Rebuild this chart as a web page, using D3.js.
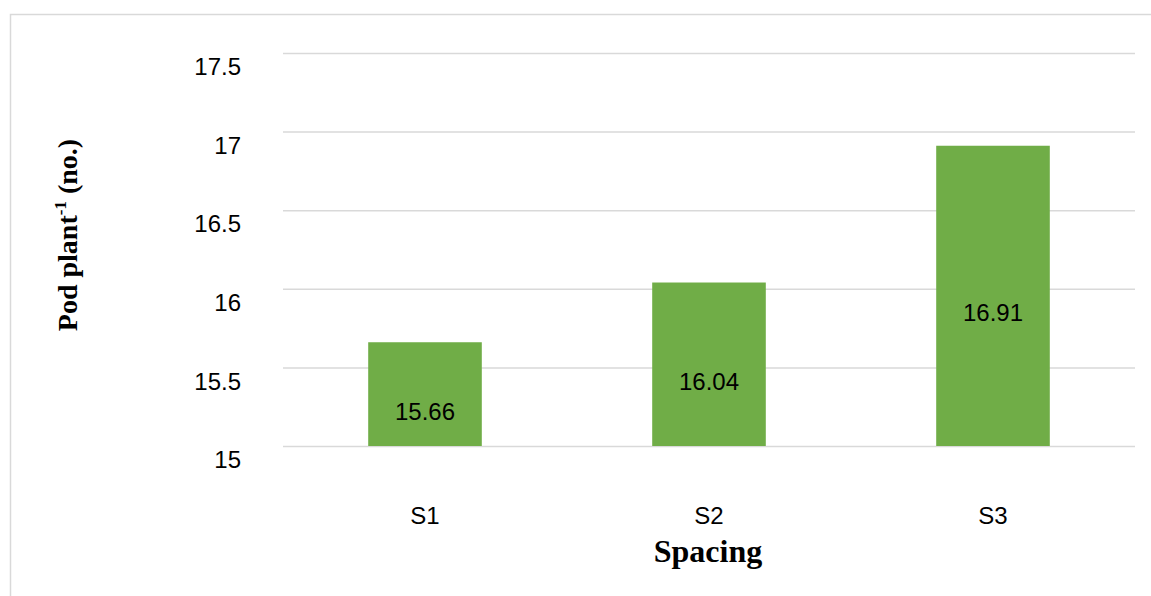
<!DOCTYPE html>
<html><head><meta charset="utf-8">
<script src="https://cdn.jsdelivr.net/npm/d3@7"></script>
<style>body{margin:0;background:#fff}svg{display:block}</style>
</head><body>
<svg id="c" width="1151" height="596"></svg>
<script>
const categories = ["S1", "S2", "S3"];
const values = [15.66, 16.04, 16.91];
const yTicks = [15, 15.5, 16, 16.5, 17, 17.5];
const yTickLabels = ["15", "15.5", "16", "16.5", "17", "17.5"];

const svg = d3.select("#c");
const m = {left: 283, right: 1135, top: 53, bottom: 446};

svg.append("rect").attr("x", 10.5).attr("y", 14.5).attr("width", 1160).attr("height", 620)
  .attr("fill", "#fff").attr("stroke", "#d9d9d9").attr("stroke-width", 1.5);

const x = d3.scaleBand().domain(categories).range([m.left, m.right]).paddingInner(0.6).paddingOuter(0.3);
const y = d3.scaleLinear().domain([15, 17.5]).range([m.bottom, m.top]);

// gridlines
const yAxis = d3.axisLeft(y).tickValues(yTicks).tickSize(-(m.right - m.left))
  .tickFormat((d, i) => yTickLabels[i]);
const gy = svg.append("g").attr("transform", `translate(${m.left},0)`).call(yAxis);
gy.select(".domain").remove();
gy.selectAll(".tick line").attr("stroke", "#d9d9d9").attr("stroke-width", 1.5);
gy.selectAll(".tick text").attr("x", -42).attr("dy", "0.9em")
  .attr("font-family", "Liberation Sans, Arial, sans-serif").attr("font-size", 24).attr("fill", "#000");

// bars
svg.append("g").selectAll("rect").data(values).join("rect")
  .attr("x", (d, i) => x(categories[i]))
  .attr("width", x.bandwidth())
  .attr("y", d => y(d))
  .attr("height", d => y(15) - y(d))
  .attr("fill", "#70ad47");

// value labels
svg.append("g").selectAll("text").data(values).join("text")
  .attr("x", (d, i) => x(categories[i]) + x.bandwidth() / 2)
  .attr("y", d => (y(d) + y(15)) / 2 + 17)
  .attr("dy", "0.35em")
  .attr("text-anchor", "middle")
  .attr("font-family", "Liberation Sans, Arial, sans-serif").attr("font-size", 24).attr("fill", "#000")
  .text(d => d.toFixed(2));

// x axis labels
const xAxis = d3.axisBottom(x).tickSize(0);
const gx = svg.append("g").attr("transform", `translate(0,${m.bottom})`).call(xAxis);
gx.select(".domain").remove();
gx.selectAll(".tick text").attr("y", 72).attr("dy", "0")
  .attr("font-family", "Liberation Sans, Arial, sans-serif").attr("font-size", 24).attr("fill", "#000")
  .attr("dominant-baseline", "middle");

// axis titles
svg.append("text").attr("x", 708).attr("y", 562).attr("text-anchor", "middle")
  .attr("font-family", "Liberation Serif, Times New Roman, serif").attr("font-weight", "bold")
  .attr("font-size", 32).attr("fill", "#000").text("Spacing");

const yt = svg.append("text").attr("transform", "translate(77,235) rotate(-90)")
  .attr("text-anchor", "middle")
  .attr("font-family", "Liberation Serif, Times New Roman, serif").attr("font-weight", "bold")
  .attr("font-size", 28).attr("fill", "#000");
yt.append("tspan").text("Pod plant");
yt.append("tspan").attr("font-size", 17).attr("dy", -11).text("-1");
yt.append("tspan").attr("dy", 11).text(" (no.)");
</script>
</body></html>
